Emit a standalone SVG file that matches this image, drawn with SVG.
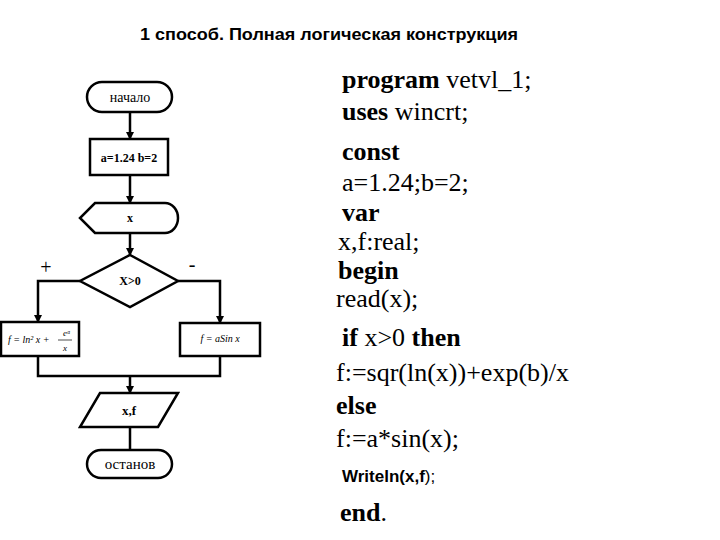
<svg xmlns="http://www.w3.org/2000/svg" width="720" height="540" viewBox="0 0 720 540">
<defs><marker id="ah" markerWidth="8" markerHeight="8" refX="7" refY="4" orient="auto" markerUnits="userSpaceOnUse"><path d="M0,0 L8,4 L0,8 Z" fill="#000"/></marker></defs>
<style>
.s{fill:#fff;stroke:#000;stroke-width:2.5}
.c{fill:none;stroke:#000;stroke-width:2.5}
.t{text-anchor:middle}
</style>
<rect width="720" height="540" fill="#fff"/>
<text x="329" y="40" font-family="Liberation Sans,sans-serif" font-size="16.5" font-weight="bold" text-anchor="middle" textLength="378" lengthAdjust="spacingAndGlyphs">1 способ. Полная логическая конструкция</text>
<g id="connectors">
<path class="c" d="M130,112 V139" marker-end="url(#ah)"/>
<path class="c" d="M130,175 V203" marker-end="url(#ah)"/>
<path class="c" d="M130,233 V255" marker-end="url(#ah)"/>
<path class="c" d="M80,281 H38 V322" marker-end="url(#ah)"/>
<path class="c" d="M178,281 H220 V323" marker-end="url(#ah)"/>
<path class="c" d="M38,356 V376 H220 V356"/>
<path class="c" d="M130,376 V393" marker-end="url(#ah)"/>
<path class="c" d="M130,427 V450"/>
</g>
<g font-family="Liberation Serif,serif" font-size="12">
<g id="start"><rect class="s" x="87" y="82" width="85" height="30" rx="15"/><text class="t" x="130" y="102" font-size="14">начало</text></g>
<g id="init"><rect class="s" x="90" y="139" width="78" height="36"/><text class="t" x="129" y="162" font-weight="bold">a=1.24 b=2</text></g>
<g id="input"><path class="s" d="M95,203 H165 A13,15 0 0 1 165,233 H95 L80,218 Z"/><text class="t" x="130" y="222" font-weight="bold">x</text></g>
<g id="cond"><path class="s" d="M130,255 L178,281 L130,307 L80,281 Z"/><text class="t" x="130" y="285" font-weight="bold">X&gt;0</text><text x="46" y="274" font-size="20" text-anchor="middle">+</text><text x="192" y="271" font-size="20" text-anchor="middle">-</text></g>
<g id="yes"><rect class="s" x="1" y="322" width="78" height="34"/><text x="8" y="343" font-size="10" font-style="italic">f = ln² x +</text><text x="63" y="336" font-size="9" font-style="italic">eᵃ</text><line x1="58" y1="340" x2="72" y2="340" stroke="#000" stroke-width="0.7"/><text x="65" y="351" font-size="9" font-style="italic" text-anchor="middle">x</text></g>
<g id="no"><rect class="s" x="180" y="323" width="80" height="33"/><text x="220" y="342" class="t" font-size="10" font-style="italic">f = aSin x</text></g>
<g id="output"><path class="s" d="M100,393 H178 L158,427 H80 Z"/><text class="t" x="129" y="415" font-weight="bold" font-size="13">x,f</text></g>
<g id="stop"><rect class="s" x="87" y="450" width="85" height="28" rx="14"/><text class="t" x="130" y="469" font-size="15">останов</text></g>
</g>
<g id="code" font-family="Liberation Serif,serif" font-size="26">
<text x="342" y="88"><tspan font-weight="bold">program</tspan> vetvl_1;</text>
<text x="342" y="120"><tspan font-weight="bold">uses</tspan> wincrt;</text>
<text x="342" y="160" font-weight="bold">const</text>
<text x="342" y="191">a=1.24;b=2;</text>
<text x="342" y="221" font-weight="bold">var</text>
<text x="338" y="250">x,f:real;</text>
<text x="338" y="279" font-weight="bold">begin</text>
<text x="336" y="307">read(x);</text>
<text x="342" y="346"><tspan font-weight="bold">if</tspan> x&gt;0 <tspan font-weight="bold">then</tspan></text>
<text x="336" y="381">f:=sqr(ln(x))+exp(b)/x</text>
<text x="336" y="414" font-weight="bold">else</text>
<text x="336" y="447">f:=a*sin(x);</text>
<text x="342" y="482" font-family="Liberation Sans,sans-serif" font-size="17"><tspan font-weight="bold">Writeln(x,f</tspan>);</text>
<text x="340" y="521" font-weight="bold">end<tspan font-weight="normal">.</tspan></text>
</g>
</svg>
